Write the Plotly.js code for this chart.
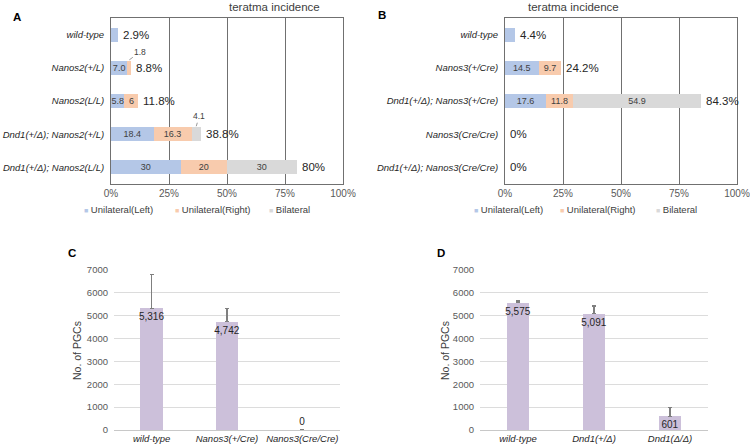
<!DOCTYPE html>
<html>
<head>
<meta charset="utf-8">
<script src="https://cdn.plot.ly/plotly-3.0.1.min.js"></script>
<style>html,body{margin:0;padding:0;background:#fff}</style>
</head>
<body>
<div id="chart" style="width:750px;height:448px"></div>
<script>
// panel A data (teratoma incidence, %)
var catsA = ['wild-type', 'Nanos2(+/L)', 'Nanos2(L/L)', 'Dnd1(+/Δ); Nanos2(+/L)', 'Dnd1(+/Δ); Nanos2(L/L)'];
var leftA = [2.9, 7.0, 5.8, 18.4, 30];
var rightA = [0, 1.8, 6, 16.3, 20];
var bilatA = [0, 0, 0, 4.1, 30];
var leftTextA = ['', '7.0', '5.8', '18.4', '30'];
var rightTextA = ['', '', '6', '16.3', '20'];
var bilatTextA = ['', '', '', '', '30'];
var rightCallA = ['', '1.8', '', '', ''];
var bilatCallA = ['', '', '', '4.1', ''];
var totalA = ['2.9%', '8.8%', '11.8%', '38.8%', '80%'];

// panel B data
var catsB = ['wild-type', 'Nanos3(+/Cre)', 'Dnd1(+/Δ); Nanos3(+/Cre)', 'Nanos3(Cre/Cre)', 'Dnd1(+/Δ); Nanos3(Cre/Cre)'];
var leftB = [4.4, 14.5, 17.6, 0, 0];
var rightB = [0, 9.7, 11.8, 0, 0];
var bilatB = [0, 0, 54.9, 0, 0];
var leftTextB = ['', '14.5', '17.6', '', ''];
var rightTextB = ['', '9.7', '11.8', '', ''];
var bilatTextB = ['', '', '54.9', '', ''];
var totalB = ['4.4%', '24.2%', '84.3%', '0%', '0%'];

// x ticks of the incidence panels
var pctTicks = [0, 25, 50, 75, 100];
var pctTickText = ['0%', '25%', '50%', '75%', '100%'];

// panel C / D data (No. of PGCs)
var catsC = ['wild-type', 'Nanos3(+/Cre)', 'Nanos3(Cre/Cre)'];
var pgcC = [5316, 4742, 0];
var errC = [1490, 560, 0];
var catsD = ['wild-type', 'Dnd1(+/Δ)', 'Dnd1(Δ/Δ)'];
var pgcD = [5575, 5091, 601];
var errD = [70, 335, 400];

var seriesNames = ['Unilateral(Left)', 'Unilateral(Right)', 'Bilateral'];
var seriesColors = ['#b4c7e7', '#f8cbad', '#d9d9d9'];
var pgcColor = '#ccc0da';

var FONT = 'Liberation Sans, Arial, sans-serif';
var W = 750, H = 448;
function px(x) { return x / W; }
function py(y) { return 1 - y / H; }

var traces = [];
var annotations = [];

function stackPanel(cats, vals, texts, xa, ya) {
  vals.forEach(function(v, k) {
    traces.push({
      type: 'bar', orientation: 'h',
      x: v, y: cats, xaxis: xa, yaxis: ya,
      width: 0.42,
      marker: {color: seriesColors[k]},
      text: texts[k], textposition: 'inside', insidetextanchor: 'middle',
      textangle: 0, constraintext: 'none',
      textfont: {size: 9, color: '#404040', family: FONT},
      showlegend: false, hoverinfo: 'skip'
    });
  });
}

function totals(cats, vals, labels, xa, ya) {
  cats.forEach(function(c, i) {
    var sum = 0;
    vals.forEach(function(v) { sum += v[i]; });
    annotations.push({
      x: sum, y: c, xref: xa, yref: ya, text: labels[i],
      xanchor: 'left', xshift: 3, showarrow: false,
      font: {size: 11.5, color: '#262626', family: FONT}
    });
  });
}

function callouts(calls, base, vals, xa, ya, ax, ay) {
  calls.forEach(function(t, i) {
    if (!t) return;
    annotations.push({
      x: base[i] + vals[i] / 2, y: i - 0.24, xref: xa, yref: ya,
      text: t, showarrow: true, arrowhead: 0, arrowwidth: 0.8,
      arrowcolor: '#7f7f7f', ax: ax, ay: ay, standoff: 0,
      font: {size: 8.5, color: '#404040', family: FONT}
    });
  });
}

function legendRow(xs, y) {
  seriesNames.forEach(function(n, k) {
    annotations.push({
      xref: 'paper', yref: 'paper', x: px(xs[k]), y: py(y),
      xanchor: 'left', yanchor: 'middle', showarrow: false,
      text: '<span style="color:' + seriesColors[k] + ';font-size:7px">■</span> ' + n,
      font: {size: 9.5, color: '#404040', family: FONT}
    });
  });
}

function pgcPanel(cats, vals, errs, xa, ya) {
  traces.push({
    type: 'bar', x: cats, y: vals, xaxis: xa, yaxis: ya,
    width: 0.3, marker: {color: pgcColor},
    error_y: {type: 'data', symmetric: false, array: errs,
              arrayminus: errs.map(function() { return 0; }),
              color: '#7f7f7f', thickness: 1.2, width: 2},
    texttemplate: '%{y:,}',
    textposition: vals.map(function(v) { return v > 0 ? 'inside' : 'outside'; }),
    insidetextanchor: 'end', textangle: 0, constraintext: 'none', cliponaxis: false,
    textfont: {size: 10, color: '#262626', family: FONT},
    showlegend: false, hoverinfo: 'skip'
  });
}

stackPanel(catsA, [leftA, rightA, bilatA], [leftTextA, rightTextA, bilatTextA], 'x', 'y');
stackPanel(catsB, [leftB, rightB, bilatB], [leftTextB, rightTextB, bilatTextB], 'x2', 'y2');
pgcPanel(catsC, pgcC, errC, 'x3', 'y3');
pgcPanel(catsD, pgcD, errD, 'x4', 'y4');

totals(catsA, [leftA, rightA, bilatA], totalA, 'x', 'y');
totals(catsB, [leftB, rightB, bilatB], totalB, 'x2', 'y2');
callouts(rightCallA, leftA, rightA, 'x', 'y', 11, -8);
callouts(bilatCallA, leftA.map(function(v, i) { return v + rightA[i]; }), bilatA, 'x', 'y', 3, -10);
legendRow([82, 173, 267], 209);
legendRow([472, 558, 654], 209);

// titles, y titles of the count panels and panel letters
[['teratma incidence', 227, 7], ['teratma incidence', 621, 7]].forEach(function(t) {
  annotations.push({xref: 'paper', yref: 'paper', x: px(t[1]), y: py(t[2]), text: t[0],
    showarrow: false, yanchor: 'middle', font: {size: 11.5, color: '#404040', family: FONT}});
});
[[77, 351], [445, 351]].forEach(function(t) {
  annotations.push({xref: 'paper', yref: 'paper', x: px(t[0]), y: py(t[1]), text: 'No. of PGCs',
    textangle: -90, showarrow: false, xanchor: 'center', yanchor: 'middle',
    font: {size: 10.5, color: '#404040', family: FONT}});
});
[['A', 11, 17], ['B', 382, 15], ['C', 66, 253], ['D', 441, 253]].forEach(function(t) {
  annotations.push({xref: 'paper', yref: 'paper', x: px(t[1]), y: py(t[2]), text: '<b>' + t[0] + '</b>',
    showarrow: false, yanchor: 'middle', font: {size: 11.5, color: '#000', family: FONT}});
});

function pctAxis(x0, x1, anchor) {
  return {
    domain: [px(x0), px(x1)], anchor: anchor, range: [0, 100],
    tickmode: 'array', tickvals: pctTicks, ticktext: pctTickText,
    ticklabeloverflow: 'allow',
    showgrid: true, gridcolor: '#707070', gridwidth: 1,
    showline: true, mirror: true, linecolor: '#707070', linewidth: 1,
    zeroline: false, ticks: '', fixedrange: true,
    tickfont: {size: 10, color: '#595959', family: FONT}
  };
}
function catAxisH(y0, y1, anchor) {
  return {
    domain: [py(y1), py(y0)], anchor: anchor, type: 'category', autorange: 'reversed',
    showline: true, mirror: true, linecolor: '#707070', showgrid: false,
    ticks: '', ticklabelstandoff: 4,
    tickfont: {size: 9.5, color: '#262626', family: FONT, style: 'italic'}
  };
}
function catAxisV(x0, x1, anchor) {
  return {
    domain: [px(x0), px(x1)], anchor: anchor, type: 'category', tickangle: 0,
    showline: true, linecolor: '#c8c8c8', showgrid: false, ticks: '',
    tickfont: {size: 9.5, color: '#262626', family: FONT, style: 'italic'}
  };
}
function countAxis(anchor) {
  return {
    domain: [py(430), py(270)], anchor: anchor, range: [0, 7000], dtick: 1000,
    showgrid: true, gridcolor: '#dcdcdc', zeroline: false, showline: false,
    ticks: '', ticklabelstandoff: 5,
    tickfont: {size: 9.5, color: '#595959', family: FONT}
  };
}

var layout = {
  width: W, height: H,
  margin: {l: 0, r: 0, t: 0, b: 0},
  paper_bgcolor: '#fff', plot_bgcolor: '#fff',
  barmode: 'stack', showlegend: false,
  font: {family: FONT, color: '#404040'},
  xaxis: pctAxis(111, 343, 'y'),
  yaxis: catAxisH(18, 184, 'x'),
  xaxis2: pctAxis(505, 737, 'y2'),
  yaxis2: catAxisH(18, 184, 'x2'),
  xaxis3: catAxisV(114, 340, 'y3'),
  yaxis3: countAxis('x3'),
  xaxis4: catAxisV(480, 708, 'y4'),
  yaxis4: countAxis('x4'),
  annotations: annotations
};

Plotly.newPlot('chart', traces, layout, {displayModeBar: false, staticPlot: true});
</script>
</body>
</html>
